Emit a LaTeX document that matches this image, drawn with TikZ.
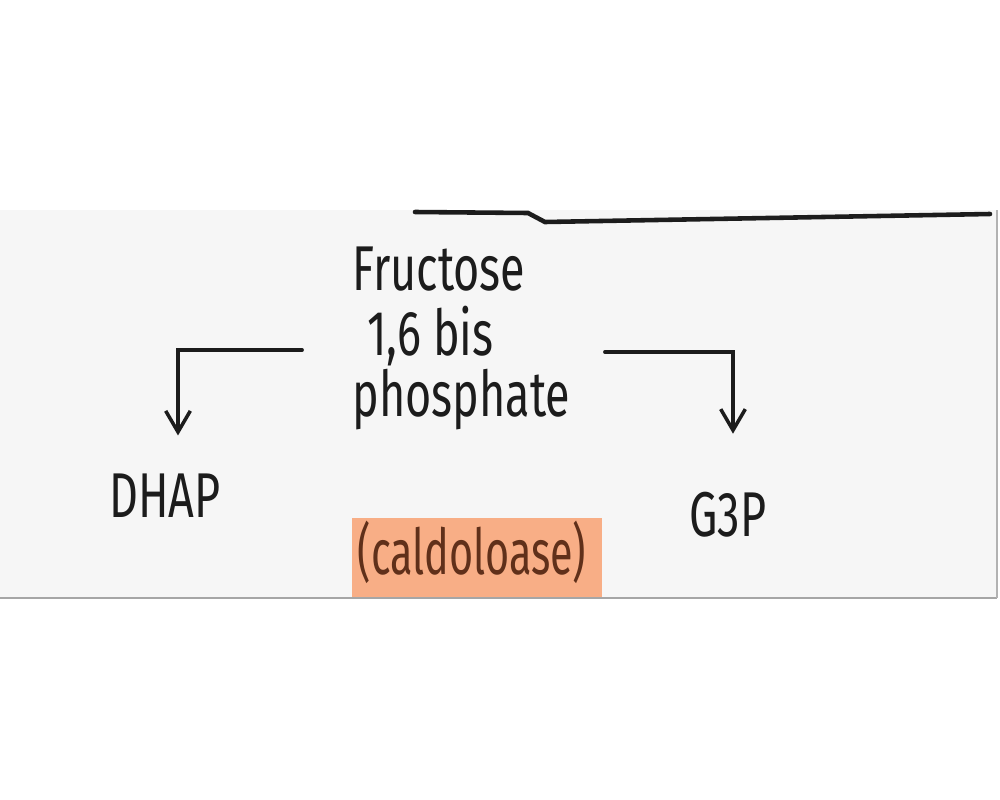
\documentclass[tikz,border=0pt]{standalone}
\usepackage{fontspec}
\setmainfont{Fira Sans}
\usepackage{tikz}
\usetikzlibrary{positioning}
\usetikzlibrary{arrows.meta}
\usepackage{xcolor}
\definecolor{paper}{RGB}{246,246,246}
\definecolor{ink}{RGB}{28,28,28}
\definecolor{peach}{RGB}{248,174,134}
\definecolor{brownink}{RGB}{96,48,26}

\begin{document}
\begin{tikzpicture}[x=0.01cm, y=-0.01cm,
    hand/.style={font=\fontsize{18}{17.5}\selectfont, text=ink, inner sep=0pt,
                 xscale=0.71, transform shape},
    flow/.style={draw=ink, line width=1.1pt, line cap=round,
                 -{Straight Barb[length=6pt, width=7pt, line width=1pt]}}]
    \useasboundingbox (0,0) rectangle (1000,800);
    \fill[white] (0,0) rectangle (1000,800);

    % Sheet of notepaper
    \begin{scope}
        \fill[paper] (0,210) rectangle (997,598);
        \draw[gray!70, line width=0.8pt] (0,598) -- (997,598);
        \draw[gray!60, line width=0.6pt] (997,210) -- (997,598);
        \draw[ink, line width=1.3pt, line cap=round]
            (415,212) -- (528,213) -- (545,222) -- (990,214);
    \end{scope}

    % Substrate and products
    \node[hand, align=left, anchor=north west] (fbp) at (352,246)
        {Fructose\\[1pt]\,\,1,6 bis\\phosphate};
    \node[hand] (dhap) at (165,496) {DHAP};
    \node[hand] (gtp) at (728,515) {G3P};

    % Enzyme label with highlighter
    \fill[peach] (352,518) rectangle (602,597);
    \node[hand, text=brownink, xscale=0.92] (enzyme) at (472,552) {(caldoloase)};

    % Splitting arrows
    \coordinate (lstart) at (302,350);
    \coordinate (rstart) at (605,352);
    \draw[flow, shorten >=0.38cm] (lstart) -| (dhap.north -| 178,0);
    \draw[flow, shorten >=0.58cm] (rstart) -| (gtp.north -| 733,0);
\end{tikzpicture}
\end{document}
